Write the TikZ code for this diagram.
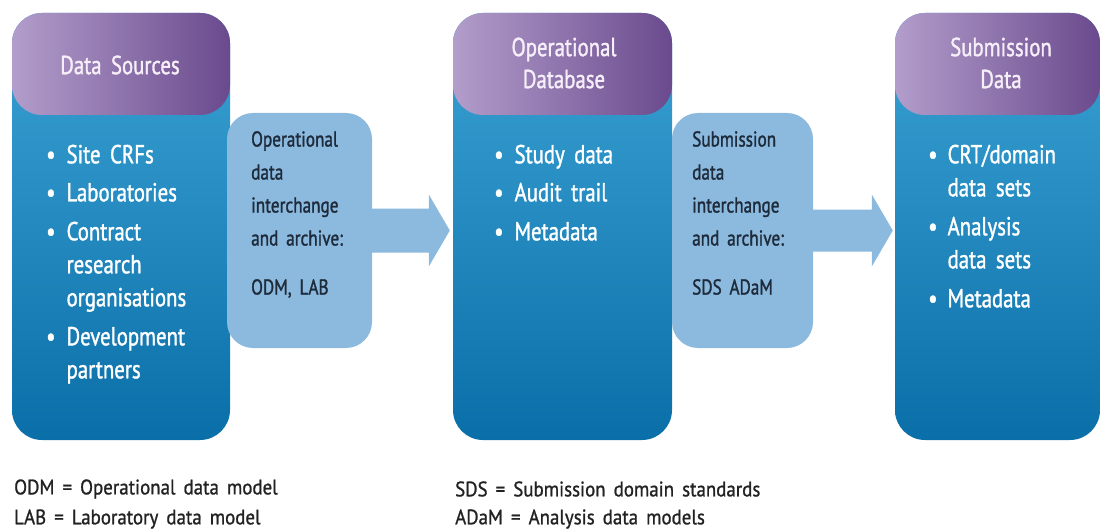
\documentclass[tikz,border=0pt]{standalone}
\usepackage{fontspec}
\setmainfont[FakeStretch=0.8, FakeBold=1.3, WordSpace=1.7]{PT Sans}
\newfontfamily\footfont[FakeStretch=0.9, FakeBold=1.0, WordSpace=1.6]{PT Sans}
\usetikzlibrary{calc}
\definecolor{hdrL}{HTML}{B29DCB}
\definecolor{hdrD}{HTML}{6A4A8D}
\definecolor{bodyT}{HTML}{3CA3D5}
\definecolor{bodyB}{HTML}{0A6FA8}
\definecolor{pale}{HTML}{8CB9DE}
\definecolor{hdrtxt}{HTML}{F6EEF8}
\definecolor{darktxt}{HTML}{1E2B3B}
\definecolor{foottxt}{HTML}{222222}
\tikzset{
  mainbox/.style={rounded corners=30pt, minimum width=#1, minimum height=427pt,
    inner sep=0pt, top color=bodyT, bottom color=bodyB,
    path picture={\shade[left color=hdrL, right color=hdrD]
      (path picture bounding box.north west) rectangle
      ([yshift=-102pt]path picture bounding box.north east);}},
  palebox/.style={rounded corners=26pt, fill=pale, minimum width=#1,
    minimum height=235pt, inner sep=0pt},
  blockarrow/.style={fill=pale},
  title/.style={text=hdrtxt, font=\fontsize{26}{32}\selectfont, align=center},
  items/.style={text=white, font=\fontsize{26}{33}\selectfont, anchor=north west, inner sep=0pt},
  paletext/.style={text=darktxt, font=\fontsize{21.5}{33}\selectfont, align=left, anchor=north west, inner sep=0pt},
  foot/.style={text=foottxt, font=\footfont\fontsize{21}{30}\selectfont, align=left, anchor=west, inner sep=0pt}
}
\newcommand{\blt}{\textbullet}
\begin{document}
\begin{tikzpicture}[x=1pt,y=-1pt]
\useasboundingbox (0,0) rectangle (1101,532);
% main boxes
\node[mainbox=218pt] (src) at (121,226.5) {};
\node[mainbox=219pt] (opdb) at (562.5,226.5) {};
\node[mainbox=205pt] (sub) at (997.5,226.5) {};
% titles
\node[title] (srcT) at (120,65) {Data Sources};
\node[title] (opdbT) at (564,63) {Operational\\Database};
\node[title] (subT) at (1001,63) {Submission\\Data};
% bullet lists
\node[items] (srcL) at (46,140) {\begin{tabular}{@{}l@{\hspace{11pt}}l@{}}
\blt & Site CRFs\\[5pt]
\blt & Laboratories\\[6pt]
\blt & Contract\\
 & research\\
 & organisations\\[6pt]
\blt & Development\\
 & partners
\end{tabular}};
\node[items] (opdbL) at (494,140) {\begin{tabular}{@{}l@{\hspace{11pt}}l@{}}
\blt & Study data\\[5pt]
\blt & Audit trail\\[6pt]
\blt & Metadata
\end{tabular}};
\node[items] (subL) at (928,140) {\begin{tabular}{@{}l@{\hspace{10pt}}l@{}}
\blt & CRT/domain\\
 & data sets\\[6pt]
\blt & Analysis\\
 & data sets\\[6pt]
\blt & Metadata
\end{tabular}};
% interchange boxes
\node[palebox=145pt] (odm) at (299.5,230.5) {};
\node[palebox=141pt] (sds) at (742.5,230.5) {};
\node[paletext] (odmT) at (251,131) {Operational\\data\\interchange\\and archive:\\[16pt]ODM, LAB};
\node[paletext] (sdsT) at (692,131) {Submission\\data\\interchange\\and archive:\\[16pt]SDS ADaM};
% block arrows
\fill[blockarrow] ($(odm.east)+(-2,-22)$) -- ($(opdb.west |- odm.east)+(-24,-22)$)
  -- ($(opdb.west |- odm.east)+(-24,-36)$) -- ($(opdb.west |- odm.east)+(-3,0)$)
  -- ($(opdb.west |- odm.east)+(-24,36)$) -- ($(opdb.west |- odm.east)+(-24,22)$)
  -- ($(odm.east)+(-2,22)$) -- cycle;
\fill[blockarrow] ($(sds.east)+(-2,-21)$) -- ($(sub.west |- sds.east)+(-23,-21)$)
  -- ($(sub.west |- sds.east)+(-23,-36)$) -- ($(sub.west |- sds.east)+(-2,0)$)
  -- ($(sub.west |- sds.east)+(-23,36)$) -- ($(sub.west |- sds.east)+(-23,21)$)
  -- ($(sds.east)+(-2,21)$) -- cycle;
% footnotes
\node[foot] (f1) at (14,489) {ODM = Operational data model};
\node[foot] (f2) at (14,519) {LAB = Laboratory data model};
\node[foot] (f3) at (455,489) {SDS = Submission domain standards};
\node[foot] (f4) at (455,519) {ADaM = Analysis data models};
\end{tikzpicture}
\end{document}
